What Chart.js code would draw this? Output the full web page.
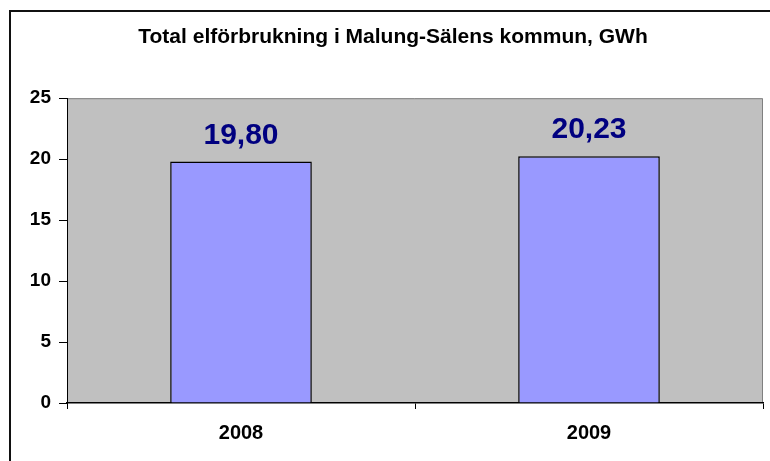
<!DOCTYPE html>
<html>
<head>
<meta charset="utf-8">
<script src="https://cdn.jsdelivr.net/npm/chart.js@4"></script>
<style>
  html, body { margin: 0; padding: 0; background: #fff; }
  #wrap { position: relative; width: 770px; height: 461px; overflow: hidden; }
  #frame { position: absolute; left: 9px; top: 10px; width: 900px; height: 600px;
           border-left: 2px solid #111; border-top: 2px solid #111; }
  canvas { position: absolute; left: 0; top: 0; }
</style>
</head>
<body>
<div id="wrap">
  <div id="frame"></div>
  <canvas id="chart" width="770" height="461"></canvas>
</div>
<script>
const title = 'Total elförbrukning i Malung-Sälens kommun, GWh';
const years = ['2008', '2009'];
const consumption = [19.80, 20.23];
const yTicks = [0, 5, 10, 15, 20, 25];

const FONT = 'Arial, "Liberation Sans", sans-serif';

// grey plot background with a thin grey frame on top and right
const plotArea = {
  id: 'plotArea',
  beforeDraw(chart) {
    const { ctx, chartArea: a } = chart;
    ctx.save();
    ctx.fillStyle = '#C0C0C0';
    ctx.fillRect(a.left, a.top, a.right - a.left, a.bottom - a.top);
    ctx.strokeStyle = '#808080';
    ctx.lineWidth = 1;
    ctx.beginPath();
    ctx.moveTo(a.left, a.top + 0.5);
    ctx.lineTo(a.right - 0.5, a.top + 0.5);
    ctx.lineTo(a.right - 0.5, a.bottom);
    ctx.stroke();
    ctx.restore();
  }
};

// value labels above bars, Swedish decimal comma
const valueLabels = {
  id: 'valueLabels',
  afterDatasetsDraw(chart) {
    const { ctx } = chart;
    const meta = chart.getDatasetMeta(0);
    ctx.save();
    ctx.font = 'bold 30px ' + FONT;
    ctx.fillStyle = '#000080';
    ctx.textAlign = 'center';
    ctx.textBaseline = 'alphabetic';
    meta.data.forEach((bar, i) => {
      const txt = consumption[i].toFixed(2).replace('.', ',');
      ctx.fillText(txt, bar.x, bar.y - 18);
    });
    ctx.restore();
  }
};

new Chart(document.getElementById('chart'), {
  type: 'bar',
  data: {
    labels: years,
    datasets: [{
      data: consumption,
      backgroundColor: '#9999FF',
      borderColor: '#000000',
      borderWidth: 1.5,
      categoryPercentage: 1,
      barPercentage: 0.407
    }]
  },
  options: {
    responsive: false,
    animation: false,
    layout: { padding: { left: 23, right: 7, top: 0, bottom: 0 } },
    plugins: {
      legend: { display: false },
      tooltip: { enabled: false },
      title: {
        display: true,
        text: title,
        color: '#000',
        font: { family: FONT, size: 21, weight: 'bold', lineHeight: 1.2 },
        padding: { top: 25, bottom: 48 }
      }
    },
    scales: {
      x: {
        offset: true,
        grid: {
          offset: true,
          drawOnChartArea: false,
          color: '#000',
          tickLength: 6
        },
        border: { color: '#000', width: 1.5 },
        ticks: {
          color: '#000',
          padding: 12,
          font: { family: FONT, size: 20, weight: 'bold' }
        },
        afterFit(scale) { scale.height = 58; }
      },
      y: {
        min: 0,
        max: 25,
        afterBuildTicks(scale) { scale.ticks = yTicks.map(v => ({ value: v })); },
        grid: {
          drawOnChartArea: false,
          color: '#000',
          tickLength: 8
        },
        border: { color: '#000', width: 1 },
        ticks: {
          color: '#000',
          padding: 8,
          font: { family: FONT, size: 19, weight: 'bold' }
        },
        afterFit(scale) { scale.width = 44; }
      }
    }
  },
  plugins: [plotArea, valueLabels]
});
</script>
</body>
</html>
